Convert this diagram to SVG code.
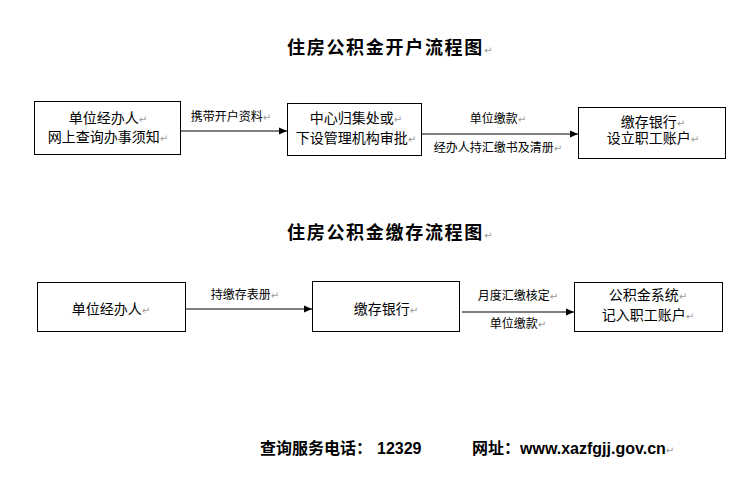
<svg xmlns="http://www.w3.org/2000/svg" width="749" height="481" viewBox="0 0 749 481">
<style>
.bg{fill:#fff}
.box{fill:#fff;stroke:#000;stroke-width:1}
.t{font-family:"Liberation Sans","Noto Sans CJK SC",sans-serif;font-size:14px;fill:#000;text-anchor:middle}
.l{font-family:"Liberation Sans","Noto Sans CJK SC",sans-serif;font-size:12px;fill:#000;text-anchor:middle}
.h{font-family:"Noto Sans CJK SC",sans-serif;font-size:18px;font-weight:bold;fill:#000;letter-spacing:1.7px}
.f{font-family:"Liberation Sans","Noto Sans CJK SC",sans-serif;font-size:16px;font-weight:bold;fill:#000}
.m{fill:#999;font-size:10px;font-weight:normal;font-family:"DejaVu Sans",sans-serif}
.c{stroke:#000;stroke-width:1;fill:none;marker-end:url(#ah)}
</style>
<defs>
<marker id="ah" markerWidth="9" markerHeight="8" refX="8" refY="4" orient="auto" markerUnits="userSpaceOnUse">
<path d="M0,0.5 L8,4 L0,7.5 Z" fill="#000"/>
</marker>
</defs>
<rect class="bg" width="749" height="481"/>
<g id="title1"><text class="h" x="287" y="54">住房公积金开户流程图<tspan class="m">↵</tspan></text></g>
<g id="title2"><text class="h" x="287" y="239">住房公积金缴存流程图<tspan class="m">↵</tspan></text></g>
<g id="connectors">
<line class="c" x1="181" y1="131" x2="287" y2="131"/>
<line class="c" x1="422" y1="134" x2="578" y2="134"/>
<line class="c" x1="186" y1="309" x2="312" y2="309"/>
<line class="c" x1="462" y1="312" x2="574" y2="312"/>
<text class="l" x="231" y="121">携带开户资料<tspan class="m">↵</tspan></text>
<text class="l" x="498" y="123">单位缴款<tspan class="m">↵</tspan></text>
<text class="l" x="498" y="152">经办人持汇缴书及清册<tspan class="m">↵</tspan></text>
<text class="l" x="245" y="299">持缴存表册<tspan class="m">↵</tspan></text>
<text class="l" x="518" y="300">月度汇缴核定<tspan class="m">↵</tspan></text>
<text class="l" x="518" y="328">单位缴款<tspan class="m">↵</tspan></text>
</g>
<g id="n1"><rect class="box" x="34.5" y="101.5" width="146" height="53"/>
<text class="t" x="108" y="123">单位经办人<tspan class="m">↵</tspan></text>
<text class="t" x="108" y="142">网上查询办事须知<tspan class="m">↵</tspan></text></g>
<g id="n2"><rect class="box" x="287.5" y="103.5" width="134" height="52"/>
<text class="t" x="356" y="123">中心归集处或<tspan class="m">↵</tspan></text>
<text class="t" x="356" y="143">下设管理机构审批<tspan class="m">↵</tspan></text></g>
<g id="n3"><rect class="box" x="578.5" y="107.5" width="147" height="51"/>
<text class="t" x="653" y="127">缴存银行<tspan class="m">↵</tspan></text>
<text class="t" x="653" y="143">设立职工账户<tspan class="m">↵</tspan></text></g>
<g id="n4"><rect class="box" x="37.5" y="282.5" width="148" height="49"/>
<text class="t" x="111" y="314">单位经办人<tspan class="m">↵</tspan></text></g>
<g id="n5"><rect class="box" x="312.5" y="281.5" width="147" height="50"/>
<text class="t" x="386" y="314">缴存银行<tspan class="m">↵</tspan></text></g>
<g id="n6"><rect class="box" x="574.5" y="282.5" width="148" height="49"/>
<text class="t" x="648" y="300">公积金系统<tspan class="m">↵</tspan></text>
<text class="t" x="648" y="320">记入职工账户<tspan class="m">↵</tspan></text></g>
<g id="footer">
<text class="f" x="260" y="454">查询服务电话：<tspan dx="5">12329</tspan></text>
<text class="f" x="472" y="454">网址：www.xazfgjj.gov.cn<tspan class="m">↵</tspan></text>
</g>
</svg>
